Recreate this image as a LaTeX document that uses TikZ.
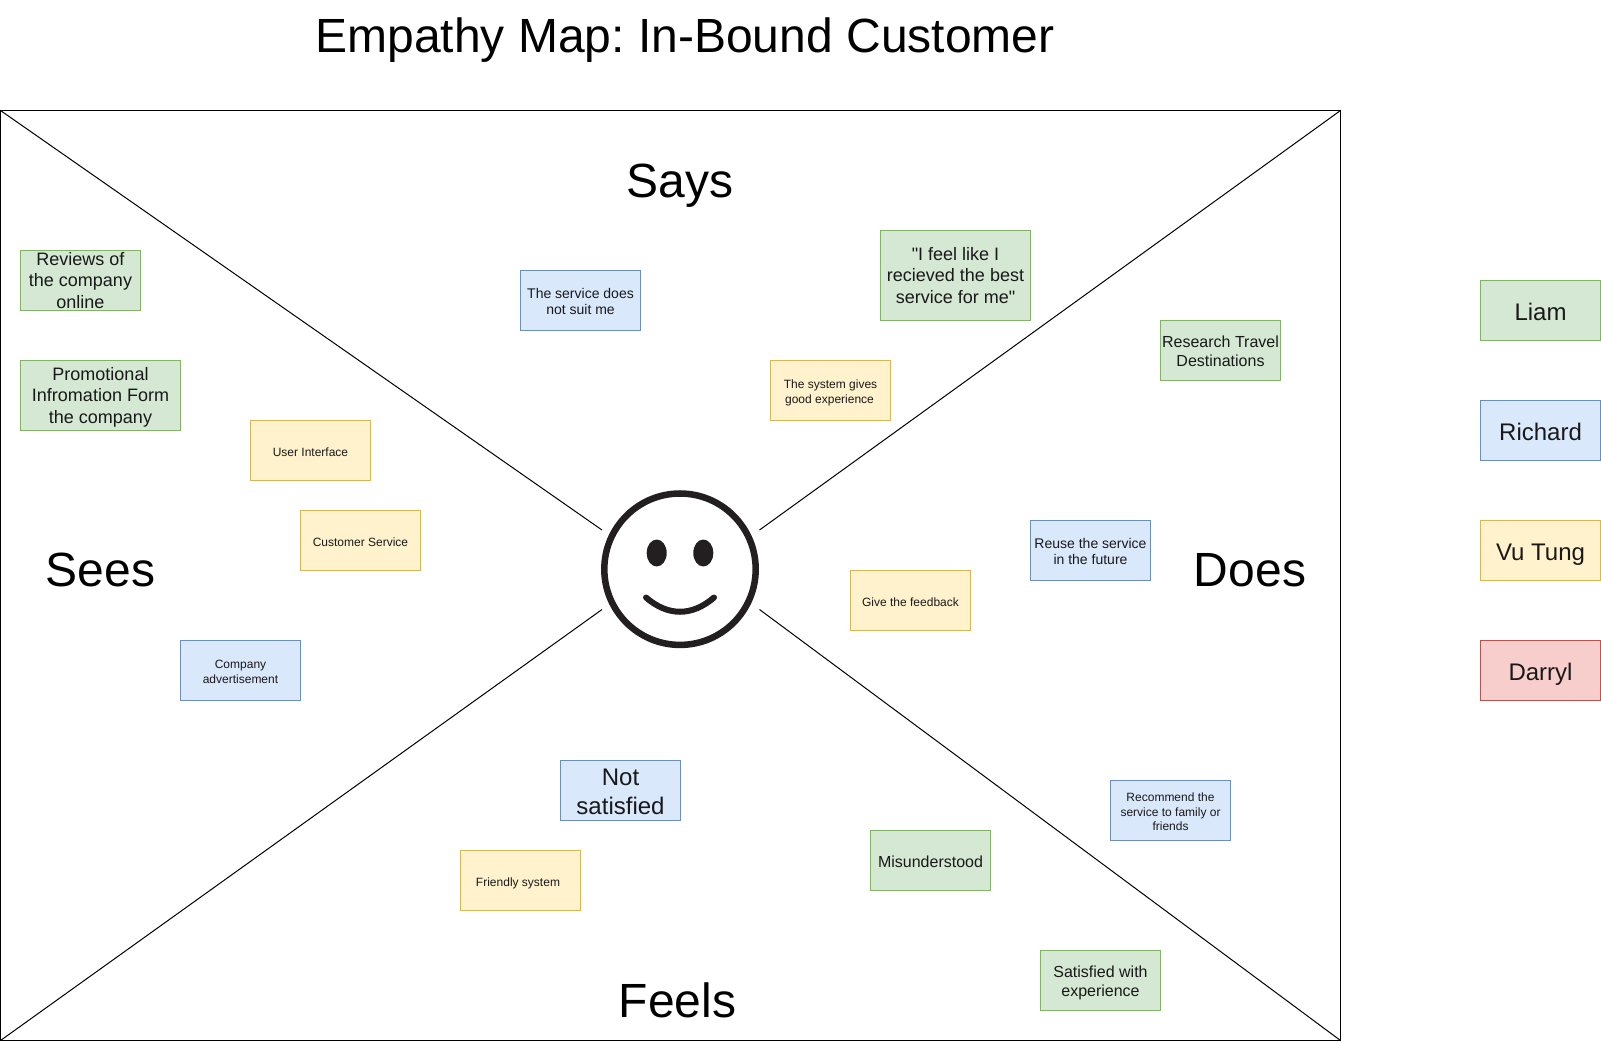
\documentclass[tikz,border=0pt]{standalone}
\usepackage{fontspec}
\setmainfont{Liberation Sans}
\newfontfamily\plainq{Liberation Sans}
\frenchspacing
\definecolor{gf}{HTML}{D5E8D4}\definecolor{gd}{HTML}{82B366}
\definecolor{bf}{HTML}{DAE8FC}\definecolor{bd}{HTML}{6C8EBF}
\definecolor{yf}{HTML}{FFF2CC}\definecolor{yd}{HTML}{D6B656}
\definecolor{rf}{HTML}{F8CECC}\definecolor{rd}{HTML}{B85450}
\definecolor{ink}{HTML}{231F20}
\newcommand\txdrop{0pt}
\newcommand\tx[1]{\raisebox{\dimexpr-0.38em-\txdrop\relax}[0pt][0pt]{\begin{tabular}[c]{@{}c@{}}#1\end{tabular}}}
\newcommand\sq{{\plainq\symbol{34}}}
\tikzset{
  note/.style={draw,line width=0.75pt,minimum width=90pt,minimum height=45pt,inner sep=0pt,text=black!90},
  gn/.style={note,fill=gf,draw=gd}, bn/.style={note,fill=bf,draw=bd},
  yn/.style={note,fill=yf,draw=yd}, rn/.style={note,fill=rf,draw=rd},
  fa/.style={font=\renewcommand\txdrop{0.9pt}\fontsize{9}{10.8}\selectfont},
  fb/.style={font=\renewcommand\txdrop{0.75pt}\fontsize{10.5}{12.6}\selectfont},
  fc/.style={font=\renewcommand\txdrop{0.6pt}\fontsize{12}{14.4}\selectfont},
  fd/.style={font=\fontsize{13.5}{16}\selectfont},
  fe/.style={font=\renewcommand\txdrop{0.3pt}\fontsize{18}{21.6}\selectfont},
  head/.style={font=\fontsize{36}{43}\selectfont,inner sep=0pt},
  divider/.style={draw=black,line width=0.75pt},
}
\begin{document}
\begin{tikzpicture}[x=0.75pt,y=-0.75pt]
\useasboundingbox (0,0) rectangle (1601,1042);
\node[head] (title) at (685,40) {Empathy Map: In-Bound Customer};
\draw[divider] (0.5,110.5) rectangle (1340.5,1040.5);
\coordinate (tl) at (0.5,110.5);
\coordinate (tr) at (1340.5,110.5);
\coordinate (bl) at (0.5,1040.5);
\coordinate (br) at (1340.5,1040.5);
\coordinate (ctl) at (602,530);
\coordinate (ctr) at (759.5,530);
\coordinate (cbl) at (602,609.5);
\coordinate (cbr) at (759.5,609.5);
\draw[divider] (tl)--(ctl) (tr)--(ctr) (bl)--(cbl) (br)--(cbr);
% smiley
\draw[ink,line width=4.9pt] (680,569.2) circle (75.7);
\fill[ink] (656.7,553) ellipse (10 and 13.5);
\fill[ink] (703.3,553) ellipse (10 and 13.5);
\draw[ink,line width=4.5pt,line cap=round] (646,597.5) .. controls (668,616.5) and (692,616.5) .. (714,597.5);
% heads
\node[head] (says) at (680,186) {Says};
\node[head] (sees) at (100.5,570) {Sees};
\node[head] (does) at (1250,570) {Does};
\node[head] (feels) at (677.5,1000) {Feels};
% sees
\node[gn,fd,minimum width=90pt] (n1) at (80.5,280.5) {\tx{Reviews of\\the company\\online}};
\node[gn,fd,minimum width=120pt,minimum height=52.5pt] (n2) at (100.5,395.5) {\tx{Promotional\\Infromation Form\\the company}};
\node[yn,fa] (n3) at (310.5,450.5) {\tx{User Interface}};
\node[yn,fa] (n4) at (360.5,540.5) {\tx{Customer Service}};
\node[bn,fa] (n5) at (240.5,670.5) {\tx{Company\\advertisement}};
% says
\node[bn,fb] (n6) at (580.5,300.5) {\tx{The service does\\not suit me}};
\node[gn,fd,minimum width=112.5pt,minimum height=67.5pt] (n7) at (955.5,275.5) {\tx{\sq I feel like I\\recieved the best\\service for me\sq}};
\node[yn,fa] (n8) at (830.5,390.5) {\tx{The system gives\\good experience\hspace*{1.5pt}}};
% does
\node[gn,fc] (n9) at (1220.5,350.5) {\tx{Research Travel\\Destinations}};
\node[bn,fb] (n10) at (1090.5,550.5) {\tx{Reuse the service\\in the future}};
\node[yn,fa] (n11) at (910.5,600.5) {\tx{Give the feedback}};
\node[bn,fa] (n12) at (1170.5,810.5) {\tx{Recommend the\\service to family or\\friends}};
\node[gn,fc] (n13) at (1100.5,980.5) {\tx{Satisfied with\\experience}};
% feels
\node[bn,fe] (n14) at (620.5,790.5) {\tx{Not\\satisfied}};
\node[yn,fa] (n15) at (520,880.5) {\tx{Friendly system\hspace*{3pt}}};
\node[gn,fc] (n16) at (930.5,860.5) {\tx{Misunderstood}};
% legend
\node[gn,fe] (l1) at (1540.5,310.5) {\tx{Liam}};
\node[bn,fe] (l2) at (1540.5,430.5) {\tx{Richard}};
\node[yn,fe] (l3) at (1540.5,550.5) {\tx{Vu Tung}};
\node[rn,fe] (l4) at (1540.5,670.5) {\tx{Darryl}};
\end{tikzpicture}
\end{document}
